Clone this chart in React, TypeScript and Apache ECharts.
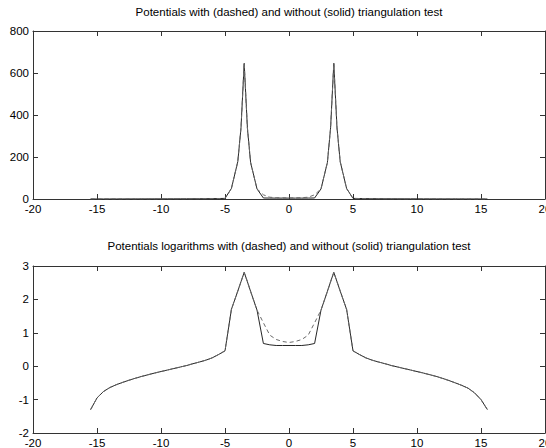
import React, { useEffect, useRef } from "react";
import * as echarts from "echarts";

const topTitle = "Potentials with (dashed) and without (solid) triangulation test";
const bottomTitle = "Potentials logarithms with (dashed) and without (solid) triangulation test";

const xs = [
  -15.5, -15, -14.5, -14, -13.5, -13, -12.5, -12, -11.5, -11, -10.5, -10, -9.5, -9, -8.5, -8, -7.5, -7, -6.5, -6, -5.5, -5,
  -4.5, -4, -3.75, -3.5, -3.25, -3, -2.5,
  -2, -1.5, -1, -0.5, 0, 0.5, 1, 1.5, 2,
  2.5, 3, 3.25, 3.5, 3.75, 4, 4.5,
  5, 5.5, 6, 6.5, 7, 7.5, 8, 8.5, 9, 9.5, 10, 10.5, 11, 11.5, 12, 12.5, 13, 13.5, 14, 14.5, 15, 15.5,
];

// potentials, without triangulation (solid)
const potSolid = [
  0.05, 0.11, 0.17, 0.23, 0.28, 0.33, 0.38, 0.44, 0.5, 0.56, 0.62, 0.69, 0.77, 0.85, 0.94, 1.05, 1.19, 1.33, 1.51, 1.78, 2.24, 2.88,
  50, 178, 339, 646, 339, 174, 48,
  4.8, 4.4, 4.2, 4.2, 4.2, 4.2, 4.2, 4.4, 4.8,
  48, 174, 339, 646, 339, 178, 50,
  2.88, 2.24, 1.78, 1.51, 1.33, 1.19, 1.05, 0.94, 0.85, 0.77, 0.69, 0.62, 0.56, 0.5, 0.43, 0.37, 0.32, 0.27, 0.22, 0.16, 0.1, 0.05,
];

// potentials, with triangulation (dashed)
const potDashed = [
  0.05, 0.11, 0.17, 0.23, 0.28, 0.33, 0.38, 0.44, 0.5, 0.56, 0.62, 0.69, 0.77, 0.85, 0.94, 1.05, 1.19, 1.33, 1.51, 1.78, 2.24, 2.88,
  50, 178, 339, 646, 339, 174, 48,
  20, 8.5, 6.3, 5.5, 5.1, 5.5, 6.3, 8.5, 20,
  48, 174, 339, 646, 339, 178, 50,
  2.88, 2.24, 1.78, 1.51, 1.33, 1.19, 1.05, 0.94, 0.85, 0.77, 0.69, 0.62, 0.56, 0.5, 0.43, 0.37, 0.32, 0.27, 0.22, 0.16, 0.1, 0.05,
];

// log10 of potentials, without triangulation (solid)
const logSolid = [
  -1.3, -0.95, -0.76, -0.64, -0.555, -0.485, -0.42, -0.36, -0.305, -0.255, -0.205, -0.16, -0.115, -0.07, -0.025, 0.02, 0.075, 0.125, 0.18, 0.25, 0.35, 0.46,
  1.7, 2.25, 2.53, 2.81, 2.53, 2.24, 1.68,
  0.68, 0.64, 0.62, 0.62, 0.62, 0.62, 0.62, 0.64, 0.68,
  1.68, 2.24, 2.53, 2.81, 2.53, 2.25, 1.7,
  0.46, 0.35, 0.25, 0.18, 0.125, 0.075, 0.02, -0.025, -0.07, -0.115, -0.16, -0.205, -0.255, -0.305, -0.365, -0.43, -0.5, -0.575, -0.66, -0.8, -1.0, -1.3,
];

// log10 of potentials, with triangulation (dashed)
const logDashed = [
  -1.3, -0.95, -0.76, -0.64, -0.555, -0.485, -0.42, -0.36, -0.305, -0.255, -0.205, -0.16, -0.115, -0.07, -0.025, 0.02, 0.075, 0.125, 0.18, 0.25, 0.35, 0.46,
  1.7, 2.25, 2.53, 2.81, 2.53, 2.24, 1.68,
  1.3, 0.93, 0.8, 0.74, 0.71, 0.74, 0.8, 0.93, 1.3,
  1.68, 2.24, 2.53, 2.81, 2.53, 2.25, 1.7,
  0.46, 0.35, 0.25, 0.18, 0.125, 0.075, 0.02, -0.025, -0.07, -0.115, -0.16, -0.205, -0.255, -0.305, -0.365, -0.43, -0.5, -0.575, -0.66, -0.8, -1.0, -1.3,
];

const xTicks = { min: -20, max: 20, interval: 5 };
const yTopTicks = { min: 0, max: 800, interval: 200 };
const yBottomTicks = { min: -2, max: 3, interval: 1 };

const FONT = "Liberation Sans, Arial, sans-serif";
const AXIS_COLOR = "#333";

function pairs(x: number[], y: number[]) {
  return x.map((v, i) => [v, y[i]]);
}

function makeAxis(gridIndex: number, position: string, range: any, showLabel: boolean) {
  return {
    type: "value",
    gridIndex,
    position,
    min: range.min,
    max: range.max,
    interval: range.interval,
    axisLine: { show: true, onZero: false, lineStyle: { color: AXIS_COLOR, width: 1 } },
    axisTick: { show: true, inside: true, length: 5, lineStyle: { color: AXIS_COLOR, width: 1 } },
    axisLabel: {
      show: showLabel,
      color: "#000",
      fontFamily: FONT,
      fontSize: 11.5,
      margin: 4,
      showMinLabel: true,
      showMaxLabel: true,
      hideOverlap: false,
    },
    splitLine: { show: false },
  };
}

export default function App() {
  const ref = useRef<HTMLDivElement>(null);
  useEffect(() => {
    if (!ref.current) return;
    const chart = echarts.init(ref.current, undefined, { renderer: "svg" });
    const solidStyle = { color: "#262626", width: 1, type: "solid" };
    const dashedStyle = { color: "#6a6a6a", width: 1, type: [4, 3] };
    chart.setOption({
      animation: false,
      backgroundColor: "#fff",
      grid: [
        { left: 33, top: 31, width: 512, height: 168, outerBoundsMode: "none", containLabel: false },
        { left: 33, top: 266, width: 512, height: 167, outerBoundsMode: "none", containLabel: false },
      ],
      xAxis: [
        makeAxis(0, "bottom", xTicks, true),
        makeAxis(0, "top", xTicks, false),
        makeAxis(1, "bottom", xTicks, true),
        makeAxis(1, "top", xTicks, false),
      ],
      yAxis: [
        makeAxis(0, "left", yTopTicks, true),
        makeAxis(0, "right", yTopTicks, false),
        makeAxis(1, "left", yBottomTicks, true),
        makeAxis(1, "right", yBottomTicks, false),
      ],
      graphic: [
        {
          type: "text",
          x: 289,
          y: 18,
          style: { text: topTitle, fill: "#000", font: `11.5px ${FONT}`, textAlign: "center", textVerticalAlign: "bottom" },
        },
        {
          type: "text",
          x: 289,
          y: 252,
          style: { text: bottomTitle, fill: "#000", font: `11.5px ${FONT}`, textAlign: "center", textVerticalAlign: "bottom" },
        },
      ],
      series: [
        {
          type: "line",
          xAxisIndex: 0,
          yAxisIndex: 0,
          data: pairs(xs, potSolid),
          showSymbol: false,
          lineStyle: solidStyle,
          z: 2,
        },
        {
          type: "line",
          xAxisIndex: 0,
          yAxisIndex: 0,
          data: pairs(xs, potDashed),
          showSymbol: false,
          lineStyle: dashedStyle,
          z: 3,
        },
        {
          type: "line",
          xAxisIndex: 2,
          yAxisIndex: 2,
          data: pairs(xs, logSolid),
          showSymbol: false,
          lineStyle: solidStyle,
          z: 2,
        },
        {
          type: "line",
          xAxisIndex: 2,
          yAxisIndex: 2,
          data: pairs(xs, logDashed),
          showSymbol: false,
          lineStyle: dashedStyle,
          z: 3,
        },
      ],
    });
    return () => chart.dispose();
  }, []);
  return (
    <div
      ref={ref}
      style={{ position: "fixed", left: 0, top: 0, width: 546, height: 448, background: "#fff" }}
    />
  );
}
